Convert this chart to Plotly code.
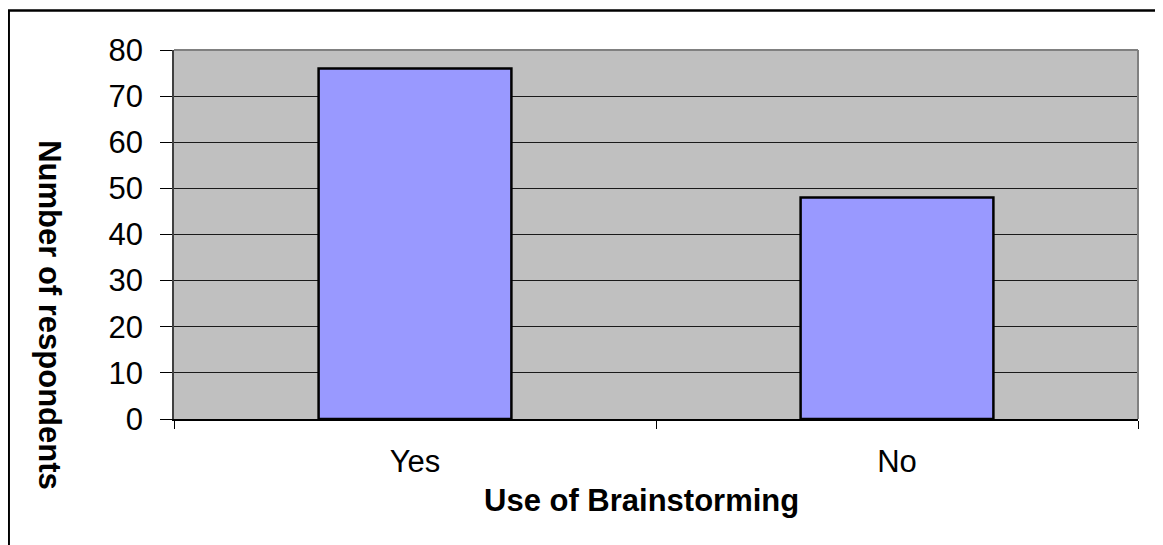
import plotly.graph_objects as go

categories = ["Yes", "No"]
respondents = [76, 48]
y_ticks = [0, 10, 20, 30, 40, 50, 60, 70, 80]

OFF = 8  # default page body margin
W, H = 1163 - OFF, 545 - OFF
L, R, T, B = 174 - OFF, 1138 - OFF, 49.5 - OFF, 419 - OFF

fig = go.Figure()
fig.add_trace(go.Bar(
    x=categories, y=respondents, width=0.4,
    marker=dict(color="#9999FF", line=dict(color="black", width=2.5)),
))

def px_to_paper_x(px):
    return (px - OFF - L) / (R - L)

def px_to_paper_y(py):
    return (B - (py - OFF)) / (B - T)

FONT = "Liberation Sans, Arial, sans-serif"
FS = 31

fig.update_layout(
    width=W, height=H,
    margin=dict(l=L, r=W - R, t=T, b=H - B, pad=0),
    paper_bgcolor="white", plot_bgcolor="#C0C0C0",
    showlegend=False,
    font=dict(family=FONT, size=FS, color="black"),
    xaxis=dict(
        type="category", tickson="boundaries", ticks="outside", ticklen=8,
        tickcolor="black", tickwidth=1, showgrid=False,
        showline=True, linecolor="black", linewidth=1.5,
        ticklabelstandoff=14, tickfont=dict(size=FS),
    ),
    yaxis=dict(
        range=[0, 80], tickvals=y_ticks, ticks="outside", ticklen=12,
        tickcolor="black", tickwidth=1, showgrid=True, gridcolor="#1a1a1a",
        gridwidth=1, showline=True, linecolor="#404040", linewidth=1.5,
        zeroline=False, tickfont=dict(size=FS), ticklabelstandoff=11,
    ),
    shapes=[
        dict(type="line", xref="paper", yref="paper", x0=0, x1=1, y0=1, y1=1,
             line=dict(color="#808080", width=2)),
        dict(type="line", xref="paper", yref="paper", x0=1, x1=1, y0=0, y1=1,
             line=dict(color="#808080", width=2)),
        dict(type="rect", xref="paper", yref="paper",
             x0=px_to_paper_x(8.7), x1=px_to_paper_x(1161.5),
             y0=px_to_paper_y(560), y1=px_to_paper_y(10),
             line=dict(color="black", width=2.5), fillcolor="rgba(0,0,0,0)",
             layer="above"),
    ],
    annotations=[
        dict(text="<b>Number of respondents</b>", textangle=90,
             xref="paper", yref="paper",
             x=px_to_paper_x(50), y=px_to_paper_y(315),
             showarrow=False, font=dict(size=FS), xanchor="center", yanchor="middle"),
        dict(text="<b>Use of Brainstorming</b>",
             xref="paper", yref="paper",
             x=px_to_paper_x(641), y=px_to_paper_y(501),
             showarrow=False, font=dict(size=FS), xanchor="center", yanchor="middle"),
    ],
)

fig.write_html("out.html")
